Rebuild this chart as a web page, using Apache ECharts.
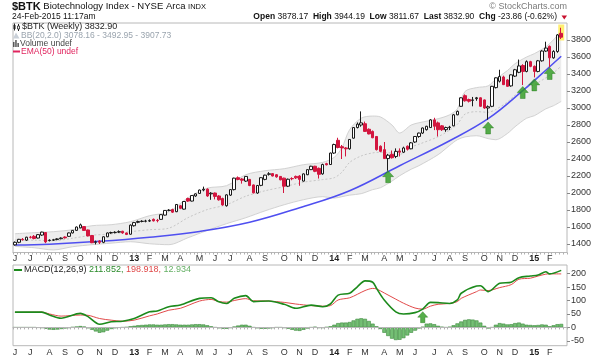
<!DOCTYPE html>
<html><head><meta charset="utf-8">
<script src="https://cdn.jsdelivr.net/npm/echarts@6/dist/echarts.min.js"></script>
<style>html,body{margin:0;padding:0;background:#fff}#c{width:600px;height:358px}</style>
</head><body><div id="c"></div>
<script>
// ---- weekly candles, week 0 = 2012-06-04 ----
const opens = [1390,1420,1455,1445,1480,1490,1470,1505,1535,1440, 1445,1452,1462,1482,1490,1530,1560,1590,1605,1565, 1500,1420,1435,1420,1485,1530,1535,1540,1550,1530, 1515,1615,1655,1665,1668,1670,1690,1678,1690,1740, 1795,1805,1780,1850,1810,1935,1905,1965,1995,2035, 2045,1990,2000,1965,1935,1850,1975,2040,2180,2165, 2140,2160,2095,2000,2090,2160,2220,2228,2215,2195, 2175,2080,2170,2195,2200,2140,2215,2275,2315,2290, 2225,2345,2335,2470,2620,2545,2530,2520,2645,2770, 2800,2815,2750,2725,2665,2550,2510,2405,2455,2430, 2495,2480,2550,2520,2600,2665,2705,2745,2770,2860, 2825,2790,2745,2770,2790,2920,3020,3145,3100,3090, 3110,3120,3095,3000,3020,3240,3315,3365,3330,3260, 3375,3420,3500,3430,3545,3490,3430,3555,3670,3725, 3590,3665,3878];
const highs = [1430,1460,1470,1485,1495,1505,1515,1545,1540,1455, 1460,1468,1478,1490,1535,1565,1605,1640,1610,1570, 1505,1440,1445,1490,1535,1545,1550,1560,1555,1535, 1630,1660,1675,1680,1685,1690,1700,1695,1750,1800, 1810,1815,1870,1860,1905,1945,1975,1995,2040,2075, 2055,2010,2005,1975,1945,1985,2045,2180,2195,2175, 2200,2165,2100,2095,2185,2215,2245,2235,2222,2200, 2180,2170,2185,2205,2210,2230,2280,2320,2320,2300, 2345,2355,2475,2580,2650,2565,2540,2635,2775,2830, 2960,2840,2760,2735,2670,2560,2600,2460,2500,2525, 2525,2545,2560,2600,2670,2710,2770,2790,2870,2885, 2840,2800,2780,2790,2930,2970,3125,3160,3110,3130, 3130,3125,3100,3030,3260,3360,3450,3380,3340,3395, 3460,3570,3515,3560,3555,3500,3565,3680,3780,3735, 3680,3870,3944];
const lows = [1380,1410,1440,1435,1465,1455,1465,1495,1410,1430, 1435,1445,1455,1465,1485,1525,1555,1585,1555,1490, 1410,1395,1400,1410,1480,1520,1525,1530,1520,1505, 1510,1605,1645,1655,1655,1660,1665,1655,1685,1735, 1785,1765,1775,1810,1805,1895,1900,1955,1990,2020, 1955,1920,1925,1910,1850,1840,1965,2030,2150,2110, 2130,2080,1995,1990,2080,2150,2205,2195,2180,2150, 2000,2070,2150,2165,2085,2135,2210,2270,2245,2170, 2215,2325,2330,2460,2525,2400,2430,2510,2640,2760, 2780,2720,2690,2645,2500,2480,2400,2262,2405,2410, 2430,2470,2500,2515,2590,2650,2695,2735,2765,2740, 2665,2730,2720,2740,2785,2915,3015,3075,3065,3020, 3085,3015,2990,2862,3010,3230,3300,3270,3250,3250, 3365,3410,3270,3420,3480,3360,3420,3545,3660,3480, 3580,3650,3812];
const closes = [1420,1455,1450,1480,1478,1465,1510,1540,1425,1445, 1450,1460,1470,1472,1530,1560,1600,1625,1560,1495, 1415,1425,1420,1485,1530,1535,1538,1545,1530,1512, 1622,1652,1665,1668,1670,1675,1672,1675,1745,1795, 1798,1775,1865,1820,1900,1905,1970,1990,2035,2045, 1965,1998,1960,1920,1860,1978,2040,2175,2160,2150, 2195,2088,2002,2088,2180,2210,2226,2200,2190,2155, 2080,2162,2168,2178,2160,2225,2275,2315,2255,2220, 2335,2332,2470,2570,2535,2530,2520,2630,2770,2810, 2825,2725,2695,2650,2510,2490,2405,2445,2415,2490, 2480,2530,2515,2590,2665,2705,2765,2785,2860,2785, 2745,2745,2770,2775,2920,2960,3120,3085,3080,3095, 3120,3020,3000,3015,3255,3355,3370,3275,3255,3390, 3450,3495,3430,3545,3490,3430,3555,3670,3705,3590, 3665,3860,3833];

// ---- Bollinger bands (read at sample weeks) ----
const bbWeeks  = [0,5,10,15,20,25,30,35,40,45,50,55,60,65,70,75,80,83,85,87,90,93,95,98,100,103,105,110,113,115,117,120,123,125,128,130,133,135,138,140,142];
const bbUpper  = [1521,1533,1545,1568,1615,1627,1662,1733,1780,1945,2057,2086,2215,2262,2286,2333,2360,2420,2533,2745,2880,2905,2895,2800,2706,2800,2826,2874,2920,2990,3195,3240,3260,3340,3440,3521,3600,3639,3720,3803,3908];
const bbMiddle = [1446,1445,1438,1468,1503,1518,1545,1568,1586,1710,1805,1862,1962,2026,2074,2127,2158,2180,2245,2360,2436,2472,2478,2470,2455,2540,2573,2662,2740,2808,2928,2957,2950,2983,3070,3150,3240,3274,3355,3415,3493];
const bbLower  = [1372,1356,1330,1368,1392,1410,1427,1403,1392,1474,1560,1639,1709,1790,1862,1921,1957,1940,1957,1975,1992,2040,2062,2140,2203,2280,2321,2451,2560,2627,2660,2674,2640,2627,2700,2780,2880,2909,2990,3027,3078];

// ---- hand-drawn trend curve ----
const trendWeeks  = [0,9,22,35,48,61,74,87,100,113,123,132,139,142];
const trendValues = [1387,1398,1431,1480,1548,1656,1827,2027,2321,2615,2874,3204,3486,3609];

// ---- green arrows ----
const arrowWeeks  = [97,123,132,135,139];
const arrowValues = [2192,2765,3182,3272,3406];
const macdArrowWeek = 106, macdArrowValue = 38;

// ---- MACD(12,26,9) ----
const macdWeeks    = [0,7,9,12,17,19,22,25,28,31,35,37,40,43,48,51,53,55,57,60,62,66,70,73,77,80,82,84,87,89,91,93,94,96,99,101,104,106,108,110,113,115,116,120,121,123,126,129,131,134,136,138,139,142];
const macdValues   = [57,57,46,34,52,40,12,21,23,33,58,61,77,83,108,110,95,89,108,118,96,98,86,71,83,77,87,120,127,151,173,168,145,102,58,50,55,68,93,92,89,102,127,154,155,133,164,168,185,191,195,207,199,212];
const signalValues = [56,57,50,42,46,45,33,27,23,27,43,50,64,71,98,104,96,94,100,107,99,98,93,87,81,79,81,102,110,123,137,145,143,128,105,90,72,68,79,86,89,96,108,133,139,137,148,159,179,183,191,198,199,199];
const histValues = [0,0,0,0,0,0,-1,-2, -5,-8,-9,-8,-6,-4,-2,1,3, 5,3,-3, -9,-15,-20,-18,-12,-6, -3,-1,0,1,
  4,6,8,9,10,11,11,10,10,11,12,12,11,10,10,10,11,12,12,11, 8,4,0,-3,-5,-5,-2, 3,7,10,10,6, 0,-3,-5,-5,-4,-2,
  0,0,-2,-5, -9,-12,-13,-9,-4, 0,2,-2,-2, 1,4,10,16, 18,18,20,26,32,34,32,24, 14,4,-6,
  -20,-32,-42,-47,-46,-40,-30,-20,-12, -4,2, 14,15,12,6, 2,0,2, 8,15,22,28,30,29,26,18, 6,-4,0,
  10,16,14,11, 12,16,18,14,10, 9,8,9,11,10, 4,8,12,13];

const yTicks = [1400,1600,1800,2000,2200,2400,2600,2800,3000,3200,3400,3600,3800];
const macdTicks = [-50,0,50,100,150,200];

// ---- categories (weeks) ----
const N = closes.length;
const categories = [];
{ const d0 = Date.UTC(2012,5,4); for (let i = 0; i <= N; i++) categories.push(new Date(d0 + i*7*864e5).toISOString().slice(0,10)); }
const isMonthStart = i => i < N && (i === 0 || categories[i].slice(5,7) !== categories[i-1].slice(5,7));
const monthFmt = v => { const m = +v.slice(5,7); return m === 1 ? '{y|' + v.slice(2,4) + '}' : 'JFMAMJJASOND'[m-1]; };

const F = '"Liberation Sans", Arial, sans-serif';
const GL = 13, GR = 33;
const ARROW = 'path://M6,0 L12,6.5 L8.6,6.5 L8.6,13 L3.4,13 L3.4,6.5 L0,6.5 Z';

function xAx(gi){
  return {type:'category', gridIndex:gi, data:categories, boundaryGap:true, z:5,
    axisLine:{show:true, lineStyle:{color:'#b8b8b8'}},
    axisTick:{show:true, interval:0, length:2, lineStyle:{color:'#b0b0b0'}},
    axisLabel:{interval:(i)=>isMonthStart(i), formatter:monthFmt, fontSize:9, fontFamily:F, color:'#333', margin:2,
      rich:{y:{fontWeight:'bold', fontSize:9, fontFamily:F, color:'#222'}}},
    splitLine:{show:false}};
}

const chart = echarts.init(document.getElementById('c'), null, {renderer:'canvas'});
chart.setOption({
  animation:false,
  backgroundColor:'#fff',
  grid:[
    {left:GL, right:GR, top:23, height:229.5, show:true, borderColor:'#b8b8b8', borderWidth:1, backgroundColor:'#fff'},
    {left:GL, right:GR, top:265, height:80.7, show:true, borderColor:'#b8b8b8', borderWidth:1, backgroundColor:'#fff'}
  ],
  xAxis:[xAx(0), xAx(1)],
  yAxis:[
    {type:'value', gridIndex:0, position:'right', min:1300, max:4000, z:5,
      splitLine:{show:false}, axisLine:{show:false},
      axisTick:{show:true, length:3, customValues:yTicks, lineStyle:{color:'#888'}},
      axisLabel:{customValues:yTicks, formatter:v=>String(v), fontSize:9, fontFamily:F, color:'#333', margin:4}},
    {type:'value', gridIndex:1, position:'right', min:-68, max:232, z:5,
      splitLine:{show:false}, axisLine:{show:false},
      axisTick:{show:true, length:3, customValues:macdTicks, lineStyle:{color:'#888'}},
      axisLabel:{customValues:macdTicks, formatter:v=>String(v), fontSize:9, fontFamily:F, color:'#333', margin:4}}
  ],
  series:[
    {type:'line', stack:'bb', xAxisIndex:0, yAxisIndex:0, data:bbWeeks.map((w,i)=>[w,bbLower[i]]),
      smooth:0.3, symbol:'none', lineStyle:{color:'#d2d2d2', width:1}, z:1, silent:true},
    {type:'line', stack:'bb', xAxisIndex:0, yAxisIndex:0, data:bbWeeks.map((w,i)=>[w,bbUpper[i]-bbLower[i]]),
      smooth:0.3, symbol:'none', lineStyle:{color:'#d2d2d2', width:1}, areaStyle:{color:'#ededed', opacity:1}, z:1, silent:true},
    {type:'line', xAxisIndex:0, yAxisIndex:0, data:bbWeeks.map((w,i)=>[w,bbMiddle[i]]),
      smooth:0.3, symbol:'none', lineStyle:{color:'#c6c6c6', width:1, type:[2,2]}, z:2, silent:true},
    {type:'scatter', xAxisIndex:0, yAxisIndex:0, data:[[N-1, (highs[N-1]+lows[N-1])/2 + 10]], symbol:'rect', symbolSize:[6,16],
      itemStyle:{color:'#ffe84d'}, z:3, silent:true},
    {type:'line', xAxisIndex:0, yAxisIndex:0, data:trendWeeks.map((w,i)=>[w,trendValues[i]]),
      smooth:0.4, symbol:'none', lineStyle:{color:'#4f4ff0', width:1.5}, z:4, silent:true},
    {type:'candlestick', xAxisIndex:0, yAxisIndex:0, data:opens.map((o,i)=>[o, closes[i], lows[i], highs[i]]),
      barWidth:3, itemStyle:{color:'#ffffff', color0:'#d3163f', borderColor:'#1a1a1a', borderColor0:'#d3163f', borderWidth:1}, z:5},
    {type:'scatter', xAxisIndex:0, yAxisIndex:0, data:arrowWeeks.map((w,i)=>[w,arrowValues[i]]), symbol:ARROW, symbolSize:[11,12],
      itemStyle:{color:'#2c9a1e', borderColor:'#1e7414', borderWidth:0.5}, z:6, silent:true},
    // MACD panel
    {type:'bar', xAxisIndex:1, yAxisIndex:1, data:histValues, barWidth:'100%',
      itemStyle:{color:'#74bf74', borderColor:'#3a8a3a', borderWidth:0.6}, z:2, silent:true},
    {type:'line', xAxisIndex:1, yAxisIndex:1, data:macdWeeks.map((w,i)=>[w,signalValues[i]]),
      smooth:0.3, symbol:'none', lineStyle:{color:'#e24a4a', width:1}, z:3, silent:true},
    {type:'line', xAxisIndex:1, yAxisIndex:1, data:macdWeeks.map((w,i)=>[w,macdValues[i]]),
      smooth:0.3, symbol:'none', lineStyle:{color:'#1c8a1c', width:1.6}, z:4, silent:true},
    {type:'scatter', xAxisIndex:1, yAxisIndex:1, data:[[macdArrowWeek, macdArrowValue]], symbol:ARROW, symbolSize:[10,11],
      itemStyle:{color:'#2c9a1e', borderColor:'#1e7414', borderWidth:0.5}, z:6, silent:true}
  ],
  graphic:[
    {type:'text', left:12, top:1, style:{text:'{b|$BTK} Biotechnology Index - NYSE Arca {s|INDX}', fontSize:9.5, fontFamily:F, fill:'#111',
      rich:{b:{fontSize:11, fontWeight:'bold', fontFamily:F, fill:'#111'}, s:{fontSize:7.5, fontFamily:F, fill:'#111'}}}},
    {type:'text', left:12, top:12, style:{text:'24-Feb-2015 11:17am', fontSize:8.5, fontFamily:F, fill:'#111'}},
    {type:'text', right:33, top:2, style:{text:'© StockCharts.com', fontSize:9, fontFamily:F, fill:'#7a7a7a'}},
    {type:'text', right:43, top:12, style:{text:'{l|Open} 3878.17  {l|High} 3944.19  {l|Low} 3811.67  {l|Last} 3832.90  {l|Chg} -23.86 (-0.62%)',
      fontSize:8.5, fontFamily:F, fill:'#111', rich:{l:{fontWeight:'bold', fontSize:8.5, fontFamily:F, fill:'#111'}}}},
    {type:'polygon', shape:{points:[[561.5,15.5],[567,15.5],[564.25,19.5]]}, style:{fill:'#c8102e'}},
    // legend inside price panel
    {type:'line', shape:{x1:14.5,y1:23.5,x2:14.5,y2:30.5}, style:{stroke:'#222', lineWidth:1}},
    {type:'rect', shape:{x:13.5,y:25,width:2,height:4}, style:{fill:'#222'}},
    {type:'line', shape:{x1:18.5,y1:24,x2:18.5,y2:31}, style:{stroke:'#222', lineWidth:1}},
    {type:'rect', shape:{x:17.5,y:26,width:2,height:3}, style:{fill:'#fff', stroke:'#222', lineWidth:0.8}},
    {type:'text', left:22, top:22.5, style:{text:'$BTK (Weekly) 3832.90', fontSize:9, fontFamily:F, fill:'#222'}},
    {type:'polygon', shape:{points:[[13,38.5],[16,32.5],[19.5,38.5]]}, style:{fill:'#c9d0d8'}},
    {type:'text', left:21, top:31, style:{text:'BB(20,2.0) 3078.16 - 3492.95 - 3907.73', fontSize:8.5, fontFamily:F, fill:'#9aa4ae'}},
    {type:'rect', shape:{x:13,y:42,width:1.5,height:5}, style:{fill:'#555'}},
    {type:'rect', shape:{x:15.2,y:40,width:1.5,height:7}, style:{fill:'#555'}},
    {type:'rect', shape:{x:17.4,y:43,width:1.5,height:4}, style:{fill:'#555'}},
    {type:'text', left:20, top:39.5, style:{text:'Volume undef', fontSize:8.5, fontFamily:F, fill:'#444'}},
    {type:'line', shape:{x1:13,y1:51.5,x2:20,y2:51.5}, style:{stroke:'#e0245e', lineWidth:2}},
    {type:'text', left:21, top:47, style:{text:'EMA(50) undef', fontSize:8.5, fontFamily:F, fill:'#e0245e'}},
    // legend MACD panel
    {type:'line', shape:{x1:14,y1:270,x2:22,y2:270}, style:{stroke:'#1c8a1c', lineWidth:2}},
    {type:'text', left:24, top:265, style:{text:'MACD(12,26,9) {g|211.852,} {r|198.918,} {l|12.934}', fontSize:9, fontFamily:F, fill:'#222',
      rich:{g:{fill:'#2a8a2a', fontSize:9, fontFamily:F}, r:{fill:'#e04848', fontSize:9, fontFamily:F}, l:{fill:'#66b066', fontSize:9, fontFamily:F}}}}
  ]
});
</script></body></html>
